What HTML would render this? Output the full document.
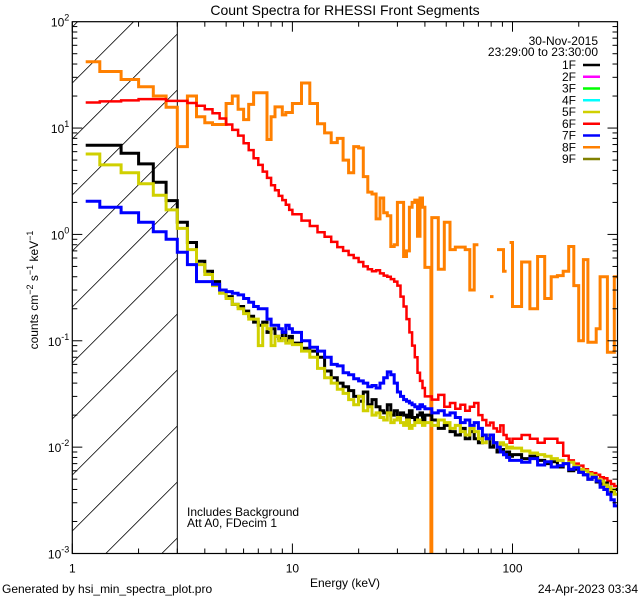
<!DOCTYPE html>
<html><head><meta charset="utf-8">
<style>
html,body{margin:0;padding:0;background:#fff;width:640px;height:600px;overflow:hidden;}
svg{display:block;font-family:"Liberation Sans",sans-serif;overflow:hidden;}
</style></head>
<body>
<svg id="chart" width="640" height="600" viewBox="0 0 640 600" xmlns="http://www.w3.org/2000/svg">
<rect width="640" height="600" fill="#fff"/>
<text x="345" y="15" font-size="14" text-anchor="middle">Count Spectra for RHESSI Front Segments</text>
<g id="hatch"></g>
<g id="series"></g>
<g id="axes"></g>
<text x="345" y="587" font-size="12" text-anchor="middle">Energy (keV)</text>
<text transform="translate(38,290) rotate(-90)" font-size="12" text-anchor="middle">counts cm<tspan dy="-5" font-size="9">−2</tspan><tspan dy="5"> s</tspan><tspan dy="-5" font-size="9">−1</tspan><tspan dy="5"> keV</tspan><tspan dy="-5" font-size="9">−1</tspan></text>
<text x="187" y="516" font-size="12">Includes Background</text>
<text x="187" y="527" font-size="12">Att A0, FDecim 1</text>
<text x="598" y="45" font-size="12" text-anchor="end">30-Nov-2015</text>
<text x="598" y="56" font-size="12" text-anchor="end">23:29:00 to 23:30:00</text>
<g id="legend"></g>
<text x="2" y="593" font-size="12">Generated by hsi_min_spectra_plot.pro</text>
<text x="638" y="593" font-size="12" text-anchor="end">24-Apr-2023 03:34</text>
</svg>
<script>
const edges = [1.15,1.333,1.667,2,2.333,2.667,3,3.333,3.667,4,4.333,4.667,5,5.333,5.667,6,6.333,6.667,7,7.333,7.667,8,8.333,8.667,9,9.333,9.667,10,
11,12,13,14,15,16,17,18,19,20,21,22,23,24,25,26,27,28,29,30,31,32,33,34,35,36,37,38,39,40,
42.6,43,46,49,52,55,58,61,64,67,70,73,76,79,82,85,88,91,94,97,100,
110,120,130,140,150,160,170,180,190,200,210,220,230,240,250,260,270,280,290,300];
const seg1F = [6.9,6.9,5.8,4.6,3.1,2.08,1.3,0.84,0.56,0.45,0.36,0.30,0.26,0.22,0.21,0.19,0.17,0.15,0.14,0.15,0.12,0.13,0.11,0.105,0.12,0.10,0.11,
0.095,0.085,0.08,0.07,0.052,0.045,0.04,0.037,0.034,0.03,0.027,0.033,0.025,0.028,0.024,0.022,0.021,0.025,0.02,0.022,0.019,0.021,0.02,0.017,0.022,0.019,0.018,0.02,0.021,0.017,
0.02,0.02,0.018,0.015,0.016,0.014,0.013,0.015,0.012,0.014,0.012,0.011,0.013,0.012,0.01,0.011,0.009,0.0095,0.0085,0.009,0.0082,
0.0085,0.0078,0.0082,0.0075,0.007,0.0073,0.0065,0.007,0.006,0.0062,0.0058,0.0055,0.005,0.0052,0.0047,0.0045,0.0046,0.0042,0.0038,0.004];
const seg5F = [5.7,4.5,3.8,3.0,2.34,1.7,1.14,0.72,0.52,0.42,0.33,0.28,0.25,0.22,0.2,0.18,0.16,0.16,0.09,0.14,0.13,0.09,0.11,0.1,0.105,0.095,0.1,
0.092,0.08,0.07,0.055,0.045,0.04,0.035,0.032,0.028,0.025,0.03,0.022,0.024,0.02,0.021,0.019,0.018,0.021,0.017,0.018,0.019,0.017,0.016,0.018,0.015,0.016,0.017,0.018,0.017,0.016,
0.017,0.017,0.016,0.018,0.017,0.015,0.016,0.014,0.013,0.015,0.014,0.012,0.011,0.013,0.012,0.011,0.01,0.011,0.0105,0.0098,0.01,
0.0098,0.0092,0.0088,0.0085,0.0082,0.0078,0.0075,0.007,0.0072,0.0066,0.0062,0.006,0.0056,0.0054,0.005,0.0048,0.0044,0.0042,0.004,0.0036];
const seg6F = [17.4,17.8,18.2,18.7,18.7,18.0,18.0,17.2,16.2,15,13.8,12.3,10.8,9.6,8.5,7.2,6.2,5.2,4.5,3.9,3.4,2.9,2.6,2.3,2.1,1.9,1.7,
1.55,1.35,1.2,1.05,0.95,0.85,0.76,0.7,0.64,0.6,0.55,0.5,0.47,0.45,0.46,0.43,0.41,0.4,0.38,0.36,0.33,0.26,0.21,0.16,0.12,0.09,0.07,0.05,0.042,0.036,
0.03,0.03,0.028,0.031,0.024,0.026,0.023,0.025,0.022,0.024,0.026,0.02,0.018,0.016,0.017,0.015,0.014,0.016,0.013,0.012,0.011,
0.012,0.013,0.012,0.011,0.012,0.012,0.011,0.0083,0.0075,0.007,0.0067,0.0062,0.0058,0.0057,0.0055,0.0052,0.0051,0.0048,0.0045,0.0043];
const seg7F = [2.05,1.8,1.6,1.3,1.06,0.9,0.68,0.52,0.36,0.36,0.34,0.3,0.29,0.28,0.27,0.25,0.23,0.21,0.2,0.2,0.16,0.14,0.14,0.13,0.12,0.14,0.13,
0.12,0.1,0.087,0.08,0.07,0.06,0.058,0.05,0.048,0.044,0.042,0.04,0.037,0.038,0.036,0.04,0.045,0.051,0.048,0.04,0.033,0.03,0.028,0.027,0.026,0.025,0.024,0.023,0.025,0.024,
0.023,0.023,0.021,0.022,0.02,0.021,0.019,0.017,0.018,0.016,0.017,0.015,0.013,0.012,0.013,0.011,0.01,0.009,0.0085,0.008,0.0075,
0.0075,0.0072,0.0078,0.0068,0.0073,0.0065,0.0067,0.007,0.0062,0.0064,0.0058,0.0055,0.005,0.0052,0.0048,0.0042,0.004,0.0036,0.0032,0.0028];
const seg8F = [42,34,28.6,24.5,20,15.7,6.7,20,12.8,11.2,10.8,10.8,17,20,15,12,16.7,21.5,21.5,21.5,7.8,12.8,15.8,15.8,13.3,14,14,
17,26.5,17,11,9,7.3,8,5,3.8,6.7,6.5,3.5,2.5,2.4,1.4,2.2,1.6,1.5,0.77,0.8,2.0,2.0,0.62,0.7,1.8,2.0,2.1,0.96,2.2,1.8,
0.49,0,1.44,0.47,1.3,0.72,0.76,0.76,0.72,0.3,0.8,null,null,null,0.26,null,0.72,0.72,0.45,null,0.84,
0.21,0.55,0.2,0.62,0.25,0.4,0.41,0.45,0.77,0.33,0.1,0.58,0.097,0.097,0.13,0.4,0.4,0.078,0.078,0.4];
const legendLabels = ["1F","2F","3F","4F","5F","6F","7F","8F","9F"];
const legendColors = ["#000000","#ff00ff","#00ff00","#00ffff","#d0d000","#ff0000","#0000ff","#ff8000","#808000"];
const yTickExps = [-3,-2,-1,0,1,2];
const xTickLabels = [1,10,100];

const L=72.3, R=617.5, T=21.7, B=553.5;
const xMin=1, xMax=300, yMin=1e-3, yMax=1e2;
const NS="http://www.w3.org/2000/svg";
function xs(e){return L+(Math.log10(e)-Math.log10(xMin))/(Math.log10(xMax)-Math.log10(xMin))*(R-L);}
function ys(v){ if(v<=0) return B; return B-(Math.log10(v)-Math.log10(yMin))/(Math.log10(yMax)-Math.log10(yMin))*(B-T);}
function mk(tag,attrs,parent){const el=document.createElementNS(NS,tag);for(const k in attrs)el.setAttribute(k,attrs[k]);parent.appendChild(el);return el;}
const svg=document.getElementById('chart');

const defs=mk('defs',{},svg);
const cp=mk('clipPath',{id:'plotclip'},defs);
mk('rect',{x:L,y:T,width:R-L,height:B-T},cp);

const hatch=document.getElementById('hatch');
const hx1=L, hx2=xs(3);
for(let c=83-56*2;c<B+105;c+=56){
  // line y = c - (x - hx1), clipped to [hx1,hx2] x [T,B]
  let xa=hx1, xb=hx2;
  xa=Math.max(xa, hx1+(c-B));
  xb=Math.min(xb, hx1+(c-T));
  if(xb<=xa) continue;
  const ln=mk('line',{x1:xa,y1:c-(xa-hx1),x2:xb,y2:c-(xb-hx1),stroke:'#000','stroke-width':0.8},hatch);
  
  
}
const hl=mk('line',{x1:hx2,y1:T,x2:hx2,y2:B,stroke:'#000','stroke-width':1},hatch);



const sg=document.getElementById('series');
sg.setAttribute('clip-path','url(#plotclip)');
function drawSeries(vals,color,w,name){
  let d='',pen=false;
  for(let i=0;i<vals.length;i++){
    const v=vals[i];
    if(v===null||v===undefined){pen=false;continue;}
    const x0=xs(edges[i]),x1=xs(edges[i+1]),y=ys(v);
    d+=(pen?'L':'M')+x0.toFixed(1)+' '+y.toFixed(1)+'L'+x1.toFixed(1)+' '+y.toFixed(1);
    pen=true;
  }
  const p=mk('path',{d:d,fill:'none',stroke:color,'stroke-width':w,'stroke-linejoin':'miter'},sg);
  
  
}
drawSeries(seg8F,'#ff8000',3,'series-8f');
drawSeries(seg6F,'#ff0000',2.5,'series-6f');
drawSeries(seg1F,'#000000',3,'series-1f');
drawSeries(seg5F,'#d0d000',3,'series-5f');
drawSeries(seg7F,'#0000ff',3,'series-7f');

const ax=document.getElementById('axes');
mk('rect',{x:L,y:T,width:R-L,height:B-T,fill:'none',stroke:'#000','stroke-width':1.2},ax);
for(let dec=1;dec<=100;dec*=10){
  for(let m=1;m<=9;m++){
    const e=dec*m; if(e>xMax) break;
    const x=xs(e), len=(m===1)?10:5;
    mk('line',{x1:x,y1:B,x2:x,y2:B-len,stroke:'#000'},ax);
    mk('line',{x1:x,y1:T,x2:x,y2:T+len,stroke:'#000'},ax);
  }
}
xTickLabels.forEach(v=>{
  const t=mk('text',{x:xs(v),y:B+19,'font-size':12,'text-anchor':'middle'},ax);
  t.textContent=String(v);
  
  
});
for(let ex=-3;ex<2;ex++){
  for(let m=1;m<=9;m++){
    const v=Math.pow(10,ex)*m, y=ys(v), len=(m===1)?10:5;
    mk('line',{x1:L,y1:y,x2:L+len,y2:y,stroke:'#000'},ax);
    mk('line',{x1:R,y1:y,x2:R-len,y2:y,stroke:'#000'},ax);
  }
}
yTickExps.forEach(ex=>{
  const y=ys(Math.pow(10,ex));
  const t=mk('text',{x:L-3,y:y+5,'font-size':12,'text-anchor':'end'},ax);
  
  
  const a=document.createElementNS(NS,'tspan');a.textContent='10';t.appendChild(a);
  const b=document.createElementNS(NS,'tspan');b.setAttribute('dy','-6');b.setAttribute('font-size','9');b.textContent=String(ex);t.appendChild(b);
});

const lg=document.getElementById('legend');
legendLabels.forEach((lab,i)=>{
  const y=65+i*11.75;
  const t=mk('text',{x:576,y:y+4,'font-size':12,'text-anchor':'end'},lg);
  t.textContent=lab;
  
  
  const l=mk('line',{x1:583,y1:y,x2:600,y2:y,stroke:legendColors[i],'stroke-width':2.5},lg);
  
  
});
</script>
</body></html>
